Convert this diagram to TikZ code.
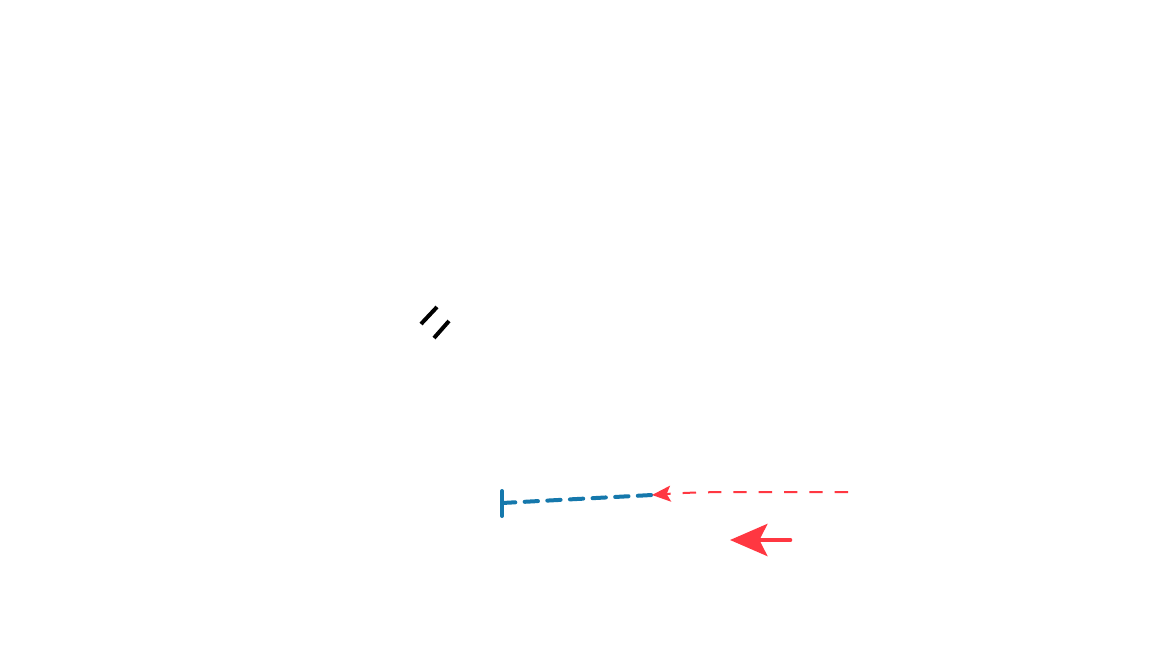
\documentclass[tikz,border=0pt]{standalone}
\usetikzlibrary{arrows.meta}
\begin{document}
\begin{tikzpicture}[x=0.75pt,y=-0.75pt,
  lbl/.style={text=white,font=\sffamily\fontsize{6.5}{7}\selectfont,align=center,inner sep=0pt},
  blueline/.style={draw={rgb,255:red,21;green,120;blue,172},line width=3pt,dash pattern=on 10pt off 7pt},
  redline/.style={draw={rgb,255:red,255;green,55;blue,65},line width=1.5pt,dash pattern=on 10pt off 9pt},
  blackbar/.style={draw=black,line width=3pt}]
\useasboundingbox (0,0) rectangle (1160,653);
\fill[white] (0,0) rectangle (1160,653);
% labels
\node[lbl] (l1) at (185,141) {1st Curve\\of Lissajous};
\node[lbl] (l2) at (296,121) {2nd Curve\\of Lissajous};
\node[lbl] (l3) at (411,243) {Curve as a\\Serrated};
\node[lbl] (l4) at (194,320) {Second\\Distance};
\node[lbl] (l5) at (560,368) {Distance\\Radial};
\node[lbl] (l6) at (920,395) {Curve};
\node[lbl] (l7) at (264,492) {Curve\\Ellipsoid};
\node[lbl] (n1) at (202,183) {4};
\node[lbl] (n2) at (276,164) {5};
\node[lbl] (n3) at (232,268) {3};
\node[lbl] (n4) at (225,299) {2};
\node[lbl] (n5) at (517,383) {1};
\node[lbl] (n6) at (578,400) {6};
\node[lbl] (n7) at (546,416) {7};
\node[lbl] (n8) at (886,450) {8};
\node[lbl] (n9) at (307,474) {1};
% black strokes
\coordinate (b1a) at (421,324); \coordinate (b1b) at (437,307);
\coordinate (b2a) at (434,338); \coordinate (b2b) at (449,321);
\draw[blackbar] (b1a) -- (b1b);
\draw[blackbar] (b2a) -- (b2b);
% blue dashed with bar
\coordinate (bs) at (502,503); \coordinate (be) at (652,495);
\draw[blueline,line cap=round] (bs) -- (be);
\coordinate (bt) at (502,491); \coordinate (bb) at (502,516);
\draw[draw={rgb,255:red,21;green,120;blue,172},line width=3pt,line cap=round] (bt) -- (bb);
% red dashed curve
\coordinate (rs) at (848,492); \coordinate (re) at (652,495);
\draw[redline,-{Stealth[length=14pt,width=12pt,inset=3pt]}] (rs) -- (740,492) .. controls (700,492) and (680,493) .. (re);
% red thick arrow
\coordinate (as) at (790,540); \coordinate (ae) at (730,540);
\draw[draw={rgb,255:red,255;green,55;blue,65},line width=3.5pt,line cap=round,-{Stealth[length=28pt,width=24pt,inset=6pt]}] (as) -- (ae);
\end{tikzpicture}
\end{document}
